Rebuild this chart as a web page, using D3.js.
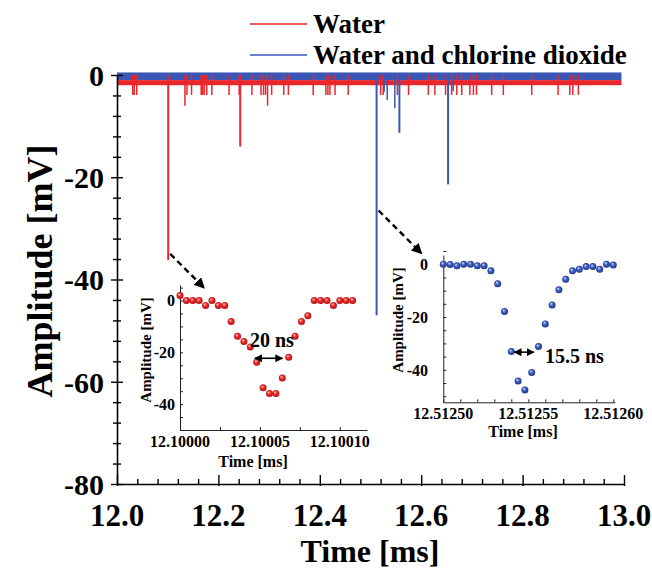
<!DOCTYPE html>
<html lang="en">
<head>
<meta charset="UTF-8">
<title>Amplitude vs time</title>
<script src="https://d3js.org/d3.v7.min.js"></script>
<style>
  body { margin: 0; background: #fff; }
  svg text { font-family: "Liberation Serif", "Times New Roman", serif; font-weight: bold; fill: #000; }
</style>
</head>
<body>
<div id="chart"></div>
<script>
// ---- data ----
var seriesNames = ["Water", "Water and chlorine dioxide"];
var seriesColors = ["#e8262b", "#3b56b5"];

// baseline noise band (time span and amplitude span, mV)
var bandTime = [12.0, 12.995];
var blueBand = [0.5, -1.0];
var redBand = [-1.0, -2.0];

// red (water) spikes: time [ms], amplitude [mV]
var redSpikeT = [12.031, 12.034, 12.039, 12.101, 12.134, 12.138, 12.147, 12.166, 12.169, 12.172,
  12.177, 12.187, 12.221, 12.241, 12.243, 12.266, 12.284, 12.289, 12.293, 12.297, 12.305, 12.329,
  12.338, 12.387, 12.412, 12.416, 12.420, 12.430, 12.456, 12.520, 12.525, 12.553, 12.575, 12.614,
  12.627, 12.648, 12.660, 12.670, 12.680, 12.696, 12.703, 12.709, 12.739, 12.762, 12.818, 12.870,
  12.893, 12.899, 12.910];
var redSpikeV = [-3.9, -3.9, -3.9, -36.2, -6.0, -3.9, -3.9, -3.9, -3.9, -3.9,
  -3.9, -3.9, -3.9, -3.9, -14.0, -3.9, -3.9, -3.9, -3.9, -6.0, -3.9, -3.9,
  -3.9, -3.9, -3.9, -3.9, -3.9, -3.9, -3.9, -3.9, -3.9, -3.9, -3.9, -3.9,
  -3.9, -3.9, -3.9, -3.9, -3.9, -3.9, -3.9, -3.9, -3.9, -3.9, -3.9, -3.9,
  -3.9, -3.9, -3.9];

// blue (water + ClO2) spikes
var blueSpikeT = [12.512, 12.527, 12.533, 12.548, 12.557, 12.653, 12.663];
var blueSpikeV = [-47.0, -3.3, -4.9, -6.5, -11.3, -21.4, -3.2];

// inset 1 (water): time offset from 12.10000 ms in ns, amplitude mV
var redInsetNs = [0, 4, 8, 12, 16, 20, 24, 28, 32, 36, 40, 44, 48, 52, 56, 60, 64, 68, 72, 76,
  80, 84, 88, 92, 96, 100, 104, 108];
var redInsetMv = [1.9, 0, 0, 0, -1.9, 0, -1.9, -1.9, -8.1, -13.8, -15.8, -17.9, -23.8, -33.7,
  -35.9, -35.9, -29.9, -21.9, -13.8, -8.1, -5.9, 0, 0, 0, -1.9, 0, 0, 0];

// inset 2 (water + ClO2): time offset from 12.51250 ms in ns
var blueInsetNs = [0, 4, 8, 12, 16, 20, 24, 28, 32, 36, 40, 44, 48, 52, 56, 60, 64, 68, 72, 76,
  80, 84, 88, 92, 96, 100];
var blueInsetMv = [0, -0.1, -0.6, 0, 0, -0.6, -0.6, -2.5, -7.4, -17.9, -33.1, -44.2, -47.6,
  -41.0, -31.2, -22.6, -15.4, -9.7, -5.7, -2.5, -1.9, -0.9, -0.9, -1.9, 0, -0.3];

var mainXTicks = [12.0, 12.2, 12.4, 12.6, 12.8, 13.0];
var mainYTicks = [0, -20, -40, -60, -80];
var insetYTicks = [0, -20, -40];
var redInsetXTicks = [12.10000, 12.10005, 12.10010];
var blueInsetXTicks = [12.51250, 12.51255, 12.51260];

// ---- svg ----
var width = 652, height = 570;
var svg = d3.select("#chart").append("svg")
  .attr("width", width).attr("height", height);

var defs = svg.append("defs");
function ballGradient(id, light, mid, dark) {
  var g = defs.append("radialGradient").attr("id", id)
    .attr("cx", "50%").attr("cy", "50%").attr("r", "55%")
    .attr("fx", "35%").attr("fy", "30%");
  g.append("stop").attr("offset", "0%").attr("stop-color", light);
  g.append("stop").attr("offset", "45%").attr("stop-color", mid);
  g.append("stop").attr("offset", "100%").attr("stop-color", dark);
}
ballGradient("ballRed", "#ffd0d0", "#ec2a2a", "#b00d10");
ballGradient("ballBlue", "#d8e0ff", "#3f5fc0", "#1a2f80");

defs.append("marker").attr("id", "arrow")
  .attr("viewBox", "0 0 10 10").attr("refX", 9).attr("refY", 5)
  .attr("markerWidth", 5).attr("markerHeight", 5).attr("orient", "auto-start-reverse")
  .attr("markerUnits", "strokeWidth")
  .append("path").attr("d", "M0,0 L10,5 L0,10 z").attr("fill", "#000");
defs.append("marker").attr("id", "bigArrow")
  .attr("viewBox", "0 0 10 10").attr("refX", 9).attr("refY", 5)
  .attr("markerWidth", 4.5).attr("markerHeight", 4.5).attr("orient", "auto")
  .attr("markerUnits", "strokeWidth")
  .append("path").attr("d", "M0,0 L10,5 L0,10 z").attr("fill", "#000");

// ---- main scales ----
var x = d3.scaleLinear().domain([12.0, 13.0]).range([117, 624]);
var y = d3.scaleLinear().domain([-80, 0]).range([484, 75]);

// baseline bands
svg.append("rect")
  .attr("x", x(bandTime[0])).attr("width", x(bandTime[1]) - x(bandTime[0]))
  .attr("y", y(blueBand[0])).attr("height", y(blueBand[1]) - y(blueBand[0]))
  .attr("fill", seriesColors[1]);
svg.append("rect")
  .attr("x", x(bandTime[0])).attr("width", x(bandTime[1]) - x(bandTime[0]))
  .attr("y", y(redBand[0])).attr("height", y(redBand[1]) - y(redBand[0]))
  .attr("fill", seriesColors[0]);

// spikes
function drawSpikes(ts, vs, color) {
  svg.append("g").selectAll("line")
    .data(ts.map(function (t, i) { return { t: t, v: vs[i] }; }))
    .enter().append("line")
    .attr("x1", function (d) { return x(d.t); })
    .attr("x2", function (d) { return x(d.t); })
    .attr("y1", y(0))
    .attr("y2", function (d) { return y(d.v); })
    .attr("stroke", color)
    .attr("stroke-width", function (d) { return d.v < -10 ? 2 : 1.5; });
}
drawSpikes(redSpikeT, redSpikeV, seriesColors[0]);
drawSpikes(blueSpikeT, blueSpikeV, seriesColors[1]);

// main axes
var yAxis = svg.append("g").attr("transform", "translate(" + x(12.0) + ",0)")
  .call(d3.axisLeft(y).tickValues(d3.range(-80, 1, 4)).tickSize(0).tickFormat(""));
yAxis.select(".domain").attr("stroke", "#000").attr("stroke-width", 1.6);
yAxis.selectAll(".tick line").attr("x1", function (d) { return d % 20 === 0 ? -6 : -4; })
  .attr("x2", function (d) { return d % 20 === 0 ? 6 : 4; })
  .attr("stroke", "#000").attr("stroke-width", 1.4);
svg.append("g").selectAll("text").data(mainYTicks).enter().append("text")
  .attr("x", 104).attr("y", function (d) { return y(d); })
  .attr("dy", "0.36em").attr("text-anchor", "end")
  .style("font-size", "30px").text(function (d) { return d; });

var xAxis = svg.append("g").attr("transform", "translate(0," + y(-80) + ")")
  .call(d3.axisBottom(x).tickValues(d3.range(0, 26).map(function (i) { return 12 + i * 0.04; }))
    .tickSize(0).tickFormat(""));
xAxis.select(".domain").attr("stroke", "#000").attr("stroke-width", 1.6);
xAxis.selectAll(".tick line").attr("y1", function (d, i) { return i % 5 === 0 ? -9 : -5; })
  .attr("y2", function (d, i) { return i % 5 === 0 ? 2 : 0; })
  .attr("stroke", "#000").attr("stroke-width", 1.4);
svg.append("g").selectAll("text").data(mainXTicks).enter().append("text")
  .attr("x", function (d) { return x(d); }).attr("y", 526)
  .attr("text-anchor", "middle")
  .style("font-size", "31px").text(function (d) { return d.toFixed(1); });

svg.append("text").attr("x", 370).attr("y", 562).attr("text-anchor", "middle")
  .style("font-size", "32px").text("Time [ms]");
svg.append("text").attr("transform", "translate(52,271) rotate(-90)")
  .attr("text-anchor", "middle").style("font-size", "36px").text("Amplitude [mV]");

// legend
var legendY = [24, 55];
seriesNames.forEach(function (name, i) {
  svg.append("line").attr("x1", 250).attr("x2", 307)
    .attr("y1", legendY[i]).attr("y2", legendY[i])
    .attr("stroke", seriesColors[i]).attr("stroke-width", 1.5);
  svg.append("text").attr("x", 313).attr("y", legendY[i] + 9)
    .style("font-size", "27px").text(name);
});

// ---- insets ----
function drawInset(o) {
  var g = svg.append("g");
  var ix = d3.scaleLinear().domain(o.xDomain).range(o.xRange);
  var iy = d3.scaleLinear().domain(o.yDomain).range(o.yRange);
  var ax = g.append("g").attr("transform", "translate(0," + o.yRange[0] + ")")
    .call(d3.axisBottom(ix).tickValues(o.xMinor).tickSize(0).tickFormat(""));
  ax.select(".domain").attr("stroke", "#222").attr("stroke-width", 1);
  ax.selectAll(".tick line").attr("y1", -3).attr("y2", 0).attr("stroke", "#222");
  var ay = g.append("g").attr("transform", "translate(" + o.xRange[0] + ",0)")
    .call(d3.axisLeft(iy).tickValues(d3.range(-50, 6, 5).filter(function (v) { return v >= o.yDomain[0]; }))
      .tickSize(0).tickFormat(""));
  ay.select(".domain").attr("stroke", "#222").attr("stroke-width", 1);
  ay.selectAll(".tick line").attr("x1", 0).attr("x2", 3).attr("stroke", "#222");

  g.append("g").selectAll("text").data(insetYTicks).enter().append("text")
    .attr("x", o.yLabelX).attr("y", function (d) { return iy(d); })
    .attr("dy", "0.36em").attr("text-anchor", "end")
    .style("font-size", "16px").text(function (d) { return d; });
  g.append("g").selectAll("text").data(o.xTicks).enter().append("text")
    .attr("x", function (d) { return ix(d); }).attr("y", o.yRange[0] + 17)
    .attr("text-anchor", "middle")
    .style("font-size", "16px").text(function (d) { return d.toFixed(5); });
  g.append("text").attr("x", o.xTitle[0]).attr("y", o.xTitle[1]).attr("text-anchor", "middle")
    .style("font-size", "16px").text("Time [ms]");
  g.append("text").attr("transform", "translate(" + o.yTitle[0] + "," + o.yTitle[1] + ") rotate(-90)")
    .attr("text-anchor", "middle").style("font-size", "15px").text("Amplitude [mV]");

  g.append("g").selectAll("circle")
    .data(o.ns.map(function (n, i) { return { t: o.t0 + n * 1e-6, v: o.mv[i] }; }))
    .enter().append("circle")
    .attr("cx", function (d) { return ix(d.t); })
    .attr("cy", function (d) { return iy(d.v); })
    .attr("r", 3.5).attr("fill", o.fill);

  // width marker
  var a = o.arrow;
  g.append("line")
    .attr("x1", ix(o.t0 + a.from * 1e-6) + 3).attr("x2", ix(o.t0 + a.to * 1e-6) - 3)
    .attr("y1", iy(a.v)).attr("y2", iy(a.v))
    .attr("stroke", "#000").attr("stroke-width", 1.6)
    .attr("marker-start", "url(#arrow)").attr("marker-end", "url(#arrow)");
  g.append("text").attr("x", a.labelX).attr("y", a.labelY)
    .style("font-size", "20px").text(a.label);
  return { x: ix, y: iy };
}

drawInset({
  t0: 12.1, ns: redInsetNs, mv: redInsetMv, fill: "url(#ballRed)",
  xDomain: [12.1, 12.100117], xRange: [180, 367],
  yDomain: [-50, 6], yRange: [430, 285],
  xTicks: redInsetXTicks, xMinor: [12.1, 12.100025, 12.10005, 12.100075, 12.1001],
  yLabelX: 175, xTitle: [253, 467], yTitle: [151, 350],
  arrow: { from: 45, to: 66, v: -22.3, label: "20 ns", labelX: 250, labelY: 347 }
});
drawInset({
  t0: 12.5125, ns: blueInsetNs, mv: blueInsetMv, fill: "url(#ballBlue)",
  xDomain: [12.5125, 12.512601], xRange: [443.3, 615],
  yDomain: [-52.3, 3.5], yRange: [402.3, 255],
  xTicks: blueInsetXTicks, xMinor: d3.range(0, 11).map(function (i) { return 12.5125 + i * 0.00001; }),
  yLabelX: 428, xTitle: [523, 437], yTitle: [403, 320],
  arrow: { from: 40, to: 55, v: -33.3, label: "15.5 ns", labelX: 545, labelY: 363 }
});

// dashed pointers from spikes to insets
var pointers = [
  { t: 12.101, v: -35.0, dx: 34, dy: 34 },
  { t: 12.512, v: -26.5, dx: 43, dy: 43 }
];
pointers.forEach(function (p) {
  var sx = x(p.t) + 2, sy = y(p.v);
  svg.append("line").attr("x1", sx).attr("y1", sy)
    .attr("x2", sx + p.dx).attr("y2", sy + p.dy)
    .attr("stroke", "#000").attr("stroke-width", 2.4)
    .attr("stroke-dasharray", "6,4")
    .attr("marker-end", "url(#bigArrow)");
});
</script>
</body>
</html>
